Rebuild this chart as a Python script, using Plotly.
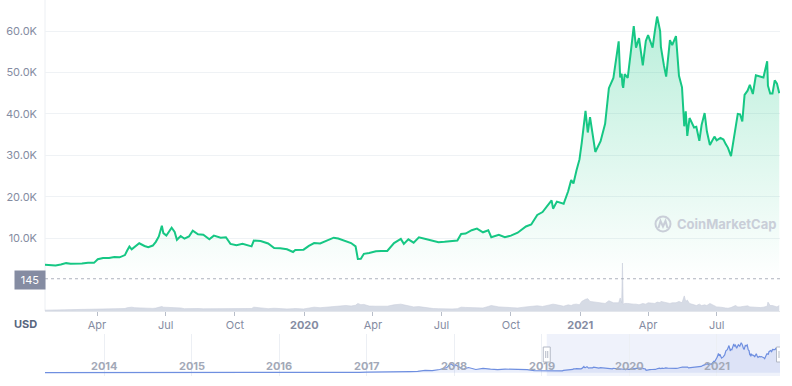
import plotly.graph_objects as go

# ---------------- data ----------------
dates = [
    "2019-01-22", "2019-01-29", "2019-02-05", "2019-02-12", "2019-02-19", "2019-02-25",
    "2019-03-04", "2019-03-12", "2019-03-20", "2019-03-28", "2019-04-02", "2019-04-09",
    "2019-04-17", "2019-04-24", "2019-05-01", "2019-05-08", "2019-05-11", "2019-05-14",
    "2019-05-17", "2019-05-21", "2019-05-27", "2019-06-03", "2019-06-08", "2019-06-14",
    "2019-06-18", "2019-06-22", "2019-06-26", "2019-06-28", "2019-07-02", "2019-07-09",
    "2019-07-13", "2019-07-16", "2019-07-21", "2019-07-26", "2019-08-01", "2019-08-06",
    "2019-08-13", "2019-08-20", "2019-08-28", "2019-09-03", "2019-09-12", "2019-09-19",
    "2019-09-25", "2019-10-03", "2019-10-11", "2019-10-23", "2019-10-26", "2019-11-04",
    "2019-11-14", "2019-11-22", "2019-11-30", "2019-12-09", "2019-12-17", "2019-12-20",
    "2019-12-31", "2020-01-07", "2020-01-14", "2020-01-22", "2020-01-31", "2020-02-09",
    "2020-02-15", "2020-02-25", "2020-03-03", "2020-03-09", "2020-03-12", "2020-03-16",
    "2020-03-20", "2020-03-27", "2020-04-05", "2020-04-12", "2020-04-20", "2020-04-29",
    "2020-05-08", "2020-05-12", "2020-05-18", "2020-05-25", "2020-06-01", "2020-06-10",
    "2020-06-20", "2020-06-27", "2020-07-05", "2020-07-15", "2020-07-22", "2020-07-27",
    "2020-08-02", "2020-08-10", "2020-08-17", "2020-08-25", "2020-09-01", "2020-09-05",
    "2020-09-15", "2020-09-23", "2020-10-01", "2020-10-10", "2020-10-21", "2020-10-28",
    "2020-11-05", "2020-11-12", "2020-11-18", "2020-11-24", "2020-11-26", "2020-12-01",
    "2020-12-10", "2020-12-16", "2020-12-20", "2020-12-23", "2020-12-27", "2020-12-31",
    "2021-01-03", "2021-01-08", "2021-01-11", "2021-01-14", "2021-01-21", "2021-01-28",
    "2021-02-03", "2021-02-08", "2021-02-14", "2021-02-21", "2021-02-23", "2021-02-25",
    "2021-02-26", "2021-02-27", "2021-03-01", "2021-03-05", "2021-03-09", "2021-03-13",
    "2021-03-16", "2021-03-20", "2021-03-25", "2021-03-29", "2021-04-01", "2021-04-07",
    "2021-04-10", "2021-04-13", "2021-04-17", "2021-04-18", "2021-04-22", "2021-04-25",
    "2021-04-30", "2021-05-03", "2021-05-08", "2021-05-12", "2021-05-16", "2021-05-19",
    "2021-05-21", "2021-05-23", "2021-05-26", "2021-06-01", "2021-06-04", "2021-06-08",
    "2021-06-11", "2021-06-15", "2021-06-18", "2021-06-22", "2021-06-28", "2021-07-01",
    "2021-07-06", "2021-07-10", "2021-07-13", "2021-07-16", "2021-07-20", "2021-07-26",
    "2021-07-29", "2021-08-01", "2021-08-04", "2021-08-07", "2021-08-11", "2021-08-14",
    "2021-08-18", "2021-08-22", "2021-08-28", "2021-09-01", "2021-09-06", "2021-09-07",
    "2021-09-10", "2021-09-13", "2021-09-16", "2021-09-19", "2021-09-22",
]

price = [
    3580, 3430, 3400, 3620, 3950, 3820,
    3800, 3880, 4050, 4020, 4900, 5200,
    5220, 5450, 5350, 5900, 7000, 7950,
    7300, 7950, 8750, 8100, 7800, 8200,
    9100, 10400, 13000, 11200, 10600, 12500,
    11500, 9600, 10500, 9850, 10400, 11800,
    10900, 10800, 9700, 10600, 10100, 10200,
    8600, 8300, 8600, 8000, 9400, 9300,
    8700, 7600, 7550, 7300, 6650, 7150,
    7200, 8100, 8800, 8700, 9350, 10100,
    9900, 9300, 8800, 8000, 4970, 5000,
    6200, 6400, 6800, 6900, 6900, 8800,
    9800, 8600, 9700, 8900, 10200, 9800,
    9300, 9000, 9100, 9200, 9400, 11000,
    11100, 11900, 12300, 11400, 11900, 10200,
    10800, 10200, 10600, 11300, 12800, 13300,
    15600, 16300, 17800, 19100, 17100, 18800,
    18300, 21300, 24000, 23200, 26300, 29000,
    33000, 40700, 35500, 39200, 30800, 33400,
    37600, 46200, 48700, 57500, 48800, 49700,
    47000, 46300, 49600, 48700, 54800, 61200,
    56000, 58300, 51700, 57600, 59000, 56000,
    60000, 63500, 60000, 56200, 51700, 49000,
    57800, 56600, 58800, 49200, 46400, 37000,
    40600, 34700, 39000, 36700, 36900, 33500,
    37300, 40200, 35800, 32500, 34500, 33600,
    34200, 33800, 32700, 31800, 29800, 37300,
    40000, 39900, 38200, 44600, 45600, 47000,
    44800, 49300, 48900, 48800, 52700, 46800,
    44900, 44900, 48100, 47300, 45000,
]

# 24h volume, billions of USD
volume = [
    6, 7, 6, 8, 10, 9,
    9, 9, 10, 10, 16, 15,
    14, 16, 15, 18, 24, 26,
    28, 24, 22, 20, 18, 19,
    21, 26, 33, 28, 27, 26,
    24, 26, 22, 17, 17, 22,
    18, 16, 16, 16, 15, 14,
    18, 15, 16, 18, 28, 22,
    17, 20, 16, 15, 17, 18,
    15, 24, 28, 24, 27, 33,
    36, 40, 36, 42, 55, 46,
    48, 36, 35, 33, 35, 45,
    50, 45, 38, 30, 32, 24,
    18, 17, 14, 15, 17, 28,
    26, 24, 26, 22, 33, 40,
    30, 28, 25, 22, 30, 32,
    38, 33, 40, 45, 50, 45,
    35, 45, 40, 48, 50, 45,
    70, 85, 90, 70, 65, 60,
    55, 75, 60, 60, 95, 60,
    350, 50, 55, 55, 50, 50,
    50, 45, 55, 50, 60, 55,
    55, 65, 60, 70, 65, 60,
    55, 60, 60, 70, 60, 110,
    70, 80, 55, 45, 40, 50,
    40, 45, 40, 55, 35, 30,
    28, 22, 22, 20, 25, 40,
    30, 30, 32, 35, 38, 30,
    28, 25, 25, 28, 35, 65,
    40, 40, 32, 30, 40,
]

# full history for the navigator (before the zoomed window)
hist_dates = [
    "2013-04-28", "2013-06-01", "2013-07-01", "2013-08-01", "2013-09-01", "2013-10-01",
    "2013-11-01", "2013-11-30", "2013-12-18", "2014-01-01", "2014-02-01", "2014-03-01",
    "2014-04-01", "2014-05-01", "2014-06-01", "2014-07-01", "2014-08-01", "2014-09-01",
    "2014-10-01", "2014-11-01", "2014-12-01", "2015-01-01", "2015-02-01", "2015-03-01",
    "2015-04-01", "2015-05-01", "2015-06-01", "2015-07-01", "2015-08-01", "2015-09-01",
    "2015-10-01", "2015-11-01", "2015-12-01", "2016-01-01", "2016-02-01", "2016-03-01",
    "2016-04-01", "2016-05-01", "2016-06-01", "2016-07-01", "2016-08-01", "2016-09-01",
    "2016-10-01", "2016-11-01", "2016-12-01", "2017-01-01", "2017-02-01", "2017-03-01",
    "2017-04-01", "2017-05-01", "2017-06-01", "2017-07-01", "2017-08-01", "2017-09-01",
    "2017-10-01", "2017-11-01", "2017-12-01", "2017-12-17", "2018-01-01", "2018-01-07",
    "2018-02-06", "2018-03-01", "2018-04-01", "2018-05-01", "2018-06-01", "2018-07-01",
    "2018-08-01", "2018-09-01", "2018-10-01", "2018-11-01", "2018-12-01", "2019-01-01",
]
hist_price = [
    135, 120, 95, 105, 140, 125,
    205, 1100, 550, 770, 830, 560,
    480, 450, 630, 640, 590, 480,
    385, 325, 380, 315, 225, 260,
    245, 235, 225, 260, 280, 230,
    240, 325, 380, 430, 375, 435,
    415, 450, 530, 675, 620, 570,
    610, 730, 750, 1000, 990, 1220,
    1080, 1420, 2400, 2430, 2870, 4750,
    4400, 6750, 10900, 19300, 13400, 17000,
    7000, 10950, 6800, 9240, 7540, 6390,
    7600, 7200, 6600, 6380, 4200, 3840,
]

price_ticks = [10000, 20000, 30000, 40000, 50000, 60000]
price_tick_text = ["10.0K", "20.0K", "30.0K", "40.0K", "50.0K", "60.0K"]

month_ticks = ["2019-04-01", "2019-07-01", "2019-10-01", "2020-01-01", "2020-04-01",
               "2020-07-01", "2020-10-01", "2021-01-01", "2021-04-01", "2021-07-01"]
month_tick_text = ["Apr", "Jul", "Oct", "<b>2020</b>", "Apr",
                   "Jul", "Oct", "<b>2021</b>", "Apr", "Jul"]

nav_years = ["2014", "2015", "2016", "2017", "2018", "2019", "2020", "2021"]
start_price_label = "145"
start_price = 145
currency = "USD"
watermark = "CoinMarketCap"

# ---------------- geometry helpers ----------------
W, H = 792, 386
def px(x):
    return x / W
def py(y):
    return 1 - y / H

FONT = "Inter, 'Open Sans', sans-serif"
GREEN = "#16c784"

fig = go.Figure()

fig.add_trace(go.Scatter(
    x=dates, y=price, mode="lines", xaxis="x", yaxis="y",
    line=dict(color=GREEN, width=2),
    fill="tozeroy",
    fillgradient=dict(type="vertical", start=0, stop=63500,
                      colorscale=[[0, "rgba(22,199,132,0.0)"], [1, "rgba(22,199,132,0.30)"]]),
    hoverinfo="skip",
))

fig.add_trace(go.Scatter(
    x=dates, y=volume, mode="lines", xaxis="x", yaxis="y2",
    line=dict(color="#c9cfdb", width=0.6),
    fill="tozeroy", fillcolor="#d6dbe5",
    hoverinfo="skip",
))

fig.add_trace(go.Scatter(
    x=hist_dates + dates, y=hist_price + price, mode="lines", xaxis="x3", yaxis="y3",
    line=dict(color="#6f8fe0", width=1.2),
    fill="tozeroy", fillcolor="rgba(111,143,224,0.14)",
    hoverinfo="skip",
))

xdom = [px(45), px(780)]

shapes = [
    dict(type="line", xref="paper", yref="paper", x0=px(45), x1=px(45), y0=py(311), y1=1,
         line=dict(color="#eceff3", width=1), layer="below"),
    dict(type="line", xref="paper", yref="y", x0=px(45), x1=px(780), y0=start_price, y1=start_price,
         line=dict(color="#9aa0ad", width=1, dash="dot")),
    dict(type="rect", xref="x3", yref="paper", x0=dates[0], x1=dates[-1], y0=py(376), y1=py(334),
         fillcolor="rgba(100,130,220,0.10)", line=dict(width=0), layer="below"),
]
for d in (dates[0], dates[-1]):
    shapes.append(dict(type="rect", xref="x3", xsizemode="pixel", xanchor=d, x0=-3.5, x1=3.5,
                       yref="paper", y0=py(362), y1=py(347), fillcolor="#ffffff",
                       line=dict(color="#b3b9c6", width=1)))
    for off in (-1, 1):
        shapes.append(dict(type="line", xref="x3", xsizemode="pixel", xanchor=d, x0=off, x1=off,
                           yref="paper", y0=py(358), y1=py(351), line=dict(color="#b3b9c6", width=1)))

shapes.append(dict(type="circle", xref="paper", yref="paper",
                   x0=px(655.5), x1=px(670.5), y0=py(231.5), y1=py(216.5),
                   line=dict(color="#c9ced8", width=2)))
logo_pts = [(658.5, 228), (660.5, 221), (663, 226.5), (665.5, 221), (667.5, 228)]
path = "M " + " L ".join(f"{px(a):.5f},{py(b):.5f}" for a, b in logo_pts)
shapes.append(dict(type="path", xref="paper", yref="paper", path=path,
                   line=dict(color="#c9ced8", width=2)))

annotations = [
    dict(x=px(30), y=py(279.5), xref="paper", yref="paper", text=start_price_label,
         showarrow=False, bgcolor="#858ca2", width=28, height=16,
         font=dict(family=FONT, size=11, color="#ffffff"), xanchor="center", yanchor="middle"),
    dict(x=px(25), y=py(324), xref="paper", yref="paper", text=f"<b>{currency}</b>",
         showarrow=False, font=dict(family=FONT, size=11, color="#58667e"),
         xanchor="center", yanchor="middle"),
    dict(x=px(726), y=py(224.5), xref="paper", yref="paper", text=f"<b>{watermark}</b>",
         showarrow=False, font=dict(family=FONT, size=13, color="#c9ced8"),
         xanchor="center", yanchor="middle"),
]
for yr in nav_years:
    annotations.append(dict(x=f"{yr}-01-01", y=py(366), xref="x3", yref="paper",
                            text=f"<b>{yr}</b>", showarrow=False,
                            font=dict(family=FONT, size=11, color="#a3a9b8"),
                            xanchor="center", yanchor="middle"))

fig.update_layout(
    width=W, height=H,
    margin=dict(l=0, r=0, t=0, b=0),
    paper_bgcolor="#ffffff", plot_bgcolor="rgba(0,0,0,0)",
    showlegend=False, hovermode=False,
    font=dict(family=FONT),
    xaxis=dict(domain=xdom, anchor="y2", range=["2019-01-22", "2021-09-23"],
               tickmode="array", tickvals=month_ticks, ticktext=month_tick_text,
               ticks="outside", ticklen=4, tickcolor="#b8bec9",
               showline=True, linecolor="#e3e6ec", linewidth=1,
               showgrid=False, zeroline=False,
               tickfont=dict(family=FONT, size=11, color="#858ca2")),
    yaxis=dict(domain=[py(279.5), 1], anchor="x", range=[0, 67500],
               tickmode="array", tickvals=price_ticks, ticktext=price_tick_text,
               showgrid=True, gridcolor="#eff2f5", gridwidth=1,
               zeroline=False, showline=False, ticks="", ticklabelstandoff=7,
               tickfont=dict(family=FONT, size=11, color="#858ca2")),
    yaxis2=dict(domain=[py(311), py(263)], anchor="x", range=[0, 350],
                visible=False),
    xaxis3=dict(domain=xdom, anchor="y3", range=["2013-04-28", "2021-09-22"],
                showgrid=True, gridcolor="#eceff4", dtick="M12", tick0="2014-01-01",
                showticklabels=False, ticks="", zeroline=False, showline=False),
    yaxis3=dict(domain=[py(376), py(334)], anchor="x3", range=[-7000, 82000],
                visible=False),
    shapes=shapes,
    annotations=annotations,
)

fig.write_html("out.html", config={"displayModeBar": False},
               post_script="document.body.style.margin='0';document.body.style.overflow='hidden';")
